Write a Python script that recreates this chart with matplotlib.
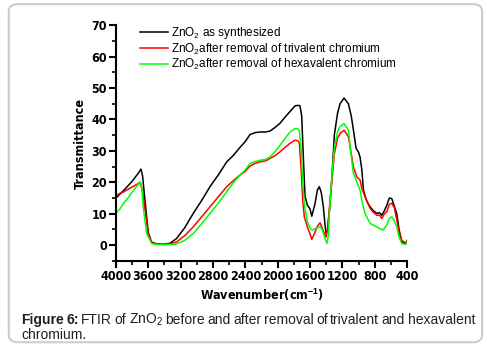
import matplotlib
matplotlib.use("Agg")
import matplotlib.pyplot as plt
from matplotlib.patches import FancyBboxPatch
from matplotlib.ticker import MultipleLocator

plt.rcParams['font.family'] = ['Liberation Sans', 'DejaVu Sans']
plt.rcParams['mathtext.fontset'] = 'custom'
plt.rcParams['mathtext.rm'] = 'Liberation Sans'
plt.rcParams['mathtext.it'] = 'Liberation Sans:italic'
plt.rcParams['mathtext.bf'] = 'Liberation Sans:bold'
plt.rcParams['mathtext.default'] = 'rm'
AX_FONT = dict(family='DejaVu Sans', fontstretch='condensed', fontweight='bold')

# as synthesized
wn_k = [4000, 3900, 3800, 3720, 3690, 3670, 3640, 3600, 3560, 3500, 3400, 3330, 3250, 3150,
        3044, 2940, 2837, 2730, 2630, 2550, 2466, 2400, 2342, 2280, 2219, 2150, 2095, 2030,
        1971, 1900, 1848, 1786, 1750, 1724, 1703, 1683, 1662, 1633, 1600, 1579, 1540, 1510,
        1485, 1460, 1436, 1415, 1402, 1385, 1360, 1332, 1300, 1260, 1229, 1180, 1126, 1090,
        1064, 1031, 1000, 982, 960, 940, 900, 858, 820, 775, 740, 713, 680, 651, 620, 590,
        560, 528, 500, 466, 440, 413, 400]
t_k = [15.0, 17.5, 20.3, 23.0, 24.2, 22.0, 14.0, 4.0, 1.0, 0.4, 0.3, 0.6, 2.1, 5.5,
       10.1, 14.2, 18.6, 22.5, 26.5, 28.5, 31.1, 33.0, 35.2, 35.8, 36.0, 36.0, 36.3, 37.5,
       38.8, 41.0, 42.5, 44.3, 44.5, 44.3, 41.0, 28.0, 15.5, 12.7, 11.5, 9.2, 13.0, 17.5,
       18.6, 16.5, 12.2, 6.5, 3.7, 4.5, 11.0, 20.7, 35.0, 42.0, 45.0, 46.8, 45.0, 41.0,
       36.6, 30.8, 29.5, 28.0, 24.0, 17.5, 14.0, 12.2, 11.0, 10.1, 10.3, 9.5, 11.0, 12.7, 15.0, 14.8,
       12.5, 10.0, 5.0, 1.0, 0.6, 0.5, 1.5]

# after removal of trivalent chromium
wn_r = [4000, 3900, 3800, 3744, 3700, 3670, 3640, 3600, 3560, 3500, 3400, 3330, 3250, 3150,
        3044, 2940, 2837, 2730, 2630, 2550, 2466, 2400, 2342, 2280, 2219, 2150, 2095, 2030,
        1971, 1900, 1848, 1786, 1750, 1732, 1710, 1690, 1671, 1633, 1600, 1579, 1540, 1510,
        1476, 1450, 1420, 1402, 1385, 1360, 1332, 1300, 1260, 1229, 1180, 1126, 1090, 1064,
        1022, 982, 960, 920, 858, 820, 775, 740, 713, 680, 651, 620, 590, 560, 528, 500,
        466, 440, 413, 400]
t_r = [15.9, 17.0, 18.5, 19.3, 20.0, 17.0, 11.0, 3.5, 0.8, 0.3, 0.2, 0.4, 1.0, 3.0,
       5.8, 9.0, 12.2, 15.5, 18.6, 20.5, 22.3, 23.5, 25.2, 26.0, 26.5, 26.8, 27.6, 28.5,
       29.7, 31.3, 32.4, 33.4, 33.2, 32.4, 24.0, 14.0, 9.0, 5.8, 3.5, 1.8, 4.0, 6.0,
       7.1, 5.5, 3.5, 2.6, 5.0, 12.0, 20.0, 29.0, 34.0, 35.5, 36.6, 34.5, 29.0, 24.9,
       21.7, 20.7, 18.0, 15.4, 11.7, 10.5, 9.5, 9.5, 8.5, 10.0, 10.6, 13.0, 13.3, 12.0, 8.0, 4.0,
       1.6, 1.0, 0.8, 1.2]

# after removal of hexavalent chromium
wn_g = [4000, 3950, 3900, 3850, 3800, 3750, 3700, 3680, 3662, 3620, 3558, 3500, 3400, 3300,
        3250, 3150, 3044, 2940, 2837, 2730, 2630, 2550, 2466, 2400, 2342, 2280, 2219, 2150,
        2095, 2030, 1971, 1900, 1848, 1786, 1750, 1732, 1710, 1690, 1671, 1633, 1600, 1579,
        1540, 1510, 1476, 1450, 1420, 1391, 1375, 1360, 1332, 1300, 1260, 1229, 1180, 1126,
        1090, 1064, 1031, 982, 950, 920, 858, 775, 740, 695, 650, 620, 590, 560, 528, 500,
        466, 440, 413, 400]
t_g = [10.1, 11.5, 13.5, 15.0, 16.8, 18.5, 20.1, 18.5, 12.2, 3.7, 0.5, 0.2, 0.2, 0.2,
       0.4, 1.5, 3.7, 6.8, 10.1, 13.5, 17.0, 19.8, 22.3, 24.0, 26.0, 26.6, 27.0, 27.3,
       28.1, 29.8, 31.8, 34.3, 36.0, 37.1, 37.0, 36.5, 30.0, 20.0, 13.0, 7.4, 5.5, 4.8,
       5.2, 5.5, 5.8, 5.0, 2.5, 0.5, 3.0, 11.0, 21.0, 31.0, 36.0, 37.7, 38.7, 36.6,
       28.0, 22.8, 20.7, 17.5, 13.0, 10.1, 6.9, 5.8, 5.3, 4.8, 6.5, 8.5, 9.0, 7.8, 5.8, 2.5,
       0.5, 0.3, 0.3, 0.8]

labels = [r'ZnO$_2$ as synthesized',
          r'ZnO$_2$after removal of trivalent chromium',
          r'ZnO$_2$after removal of hexavalent chromium']
caption1 = r'FTIR of ZnO$_2$ before and after removal of trivalent and hexavalent'
caption2 = 'chromium.'

fig = plt.figure(figsize=(4.87, 3.45), dpi=100)
ax = fig.add_axes([0.238, 0.244, 0.598, 0.683])

ax.plot(wn_k, t_k, color='black', lw=1.1, label=labels[0])
ax.plot(wn_r, t_r, color='#ff0000', lw=1.1, label=labels[1])
ax.plot(wn_g, t_g, color='#00ff00', lw=1.1, label=labels[2])

ax.set_xlim(4000, 400)
ax.set_ylim(-5, 70)
ax.xaxis.set_major_locator(MultipleLocator(400))
ax.xaxis.set_minor_locator(MultipleLocator(200))
ax.yaxis.set_major_locator(MultipleLocator(10))
ax.yaxis.set_minor_locator(MultipleLocator(5))
ax.set_yticks(range(0, 71, 10))
for s in ['top', 'right']:
    ax.spines[s].set_visible(False)
for s in ['left', 'bottom']:
    ax.spines[s].set_linewidth(1.5)
ax.tick_params(which='major', direction='out', length=5, width=1.5, labelsize=9, pad=1.5)
ax.tick_params(which='minor', direction='out', length=3, width=1.2)
for lab in ax.get_xticklabels() + ax.get_yticklabels():
    lab.set_fontweight('bold')
    lab.set_family('DejaVu Sans')
    lab.set_fontstretch('condensed')

ax.set_xlabel(r'Wavenumber(cm$^{\mathbf{-1}}$)', fontsize=9, labelpad=3, **AX_FONT)
ax.set_ylabel('Transmittance', fontsize=9, labelpad=3, **AX_FONT)

ax.legend(loc='upper left', bbox_to_anchor=(0.065, 1.02), frameon=False, fontsize=8.5,
          handlelength=2.4, handletextpad=0.3, labelspacing=0.02, borderaxespad=0)

# caption, first line justified between x=21 and x=475 px
fig.canvas.draw()
r = fig.canvas.get_renderer()
cap_kw = dict(fontsize=10, color='#231f20', family=['Liberation Sans', 'DejaVu Sans'])
words = [('Figure', 'bold'), ('6:', 'bold')] + [(w, 'normal') for w in caption1.split(' ')]
arts = [fig.text(0, 0.061, w, fontweight=fw, **cap_kw) for w, fw in words]
widths = [a.get_window_extent(r).width for a in arts]
x0, x1 = 21, 475
gap = (x1 - x0 - sum(widths)) / (len(arts) - 1)
x = x0
for a, w in zip(arts, widths):
    a.set_x(x / 487)
    x += w + gap
fig.text(x0 / 487, 0.018, caption2, **cap_kw)

box = FancyBboxPatch((0.018, 0.008), 0.972, 0.98, boxstyle='round,pad=0,rounding_size=0.02',
                     transform=fig.transFigure, fill=False, edgecolor='#cccccc', lw=1.5)
fig.patches.append(box)

fig.savefig('out.png', dpi=100)
